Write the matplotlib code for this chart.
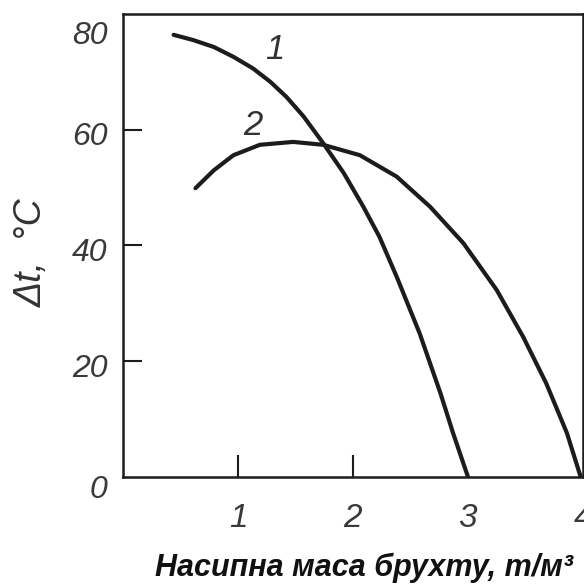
"""
Temperature difference vs bulk density of scrap, curves 1 and 2.
"""
import matplotlib
matplotlib.use("Agg")
import matplotlib.pyplot as plt
from matplotlib.transforms import ScaledTranslation

# curve 1
x_curve1 = [0.44, 0.61, 0.79, 0.96, 1.13, 1.28, 1.42, 1.57, 1.74, 1.92, 2.09, 2.23,
            2.38, 2.58, 2.76, 2.87, 3.00]
y_curve1 = [76.4, 75.5, 74.3, 72.6, 70.6, 68.3, 65.7, 62.3, 57.7, 52.5, 46.7, 41.5,
            34.6, 24.8, 14.5, 7.6, 0.0]

# curve 2
x_curve2 = [0.63, 0.79, 0.96, 1.19, 1.48, 1.74, 2.06, 2.38, 2.67, 2.96, 3.25, 3.48,
            3.68, 3.86, 3.98]
y_curve2 = [49.9, 53.0, 55.6, 57.4, 57.9, 57.4, 55.6, 51.9, 46.7, 40.4, 32.3, 24.2,
            16.2, 7.6, 0.0]

curve_names = ["1", "2"]
name_pos_x = [1.32, 1.13]
name_pos_y = [73.8, 60.8]

x_ticks = [1, 2, 3, 4]
y_ticks = [0, 20, 40, 60, 80]

x_title = "Насипна маса брухту, т/м³"
y_title = "Δt,  °C"

num_font = ["Liberation Sans Narrow", "Liberation Sans", "DejaVu Sans"]
ink = "#1c1c1c"

fig = plt.figure(figsize=(5.84, 5.87), dpi=100)
ax = fig.add_axes([123 / 584, 110 / 587, 460 / 584, 463 / 587])

ax.plot(x_curve1, y_curve1, color=ink, lw=3.0, solid_capstyle="round", solid_joinstyle="round")
ax.plot(x_curve2, y_curve2, color=ink, lw=3.0, solid_capstyle="round", solid_joinstyle="round")

for name, nx, ny in zip(curve_names, name_pos_x, name_pos_y):
    ax.text(nx, ny, name, fontsize=25, style="italic", family=num_font,
            color="#333333", ha="center", va="center")

ax.set_xlim(0, 4)
ax.set_ylim(0, 80)

for sp in ax.spines.values():
    sp.set_linewidth(1.8)
    sp.set_color(ink)

ax.set_xticks(x_ticks)
ax.set_xticklabels([str(v) for v in x_ticks])
ax.set_yticks(y_ticks)
ax.set_yticklabels([str(v) for v in y_ticks])
ax.tick_params(axis="x", direction="in", length=16, width=1.5, pad=19, colors=ink)
ax.tick_params(axis="y", direction="in", length=14, width=1.5, pad=11, colors=ink)

# only 1, 2 on x and 20..60 on y have tick marks
for t in ax.xaxis.get_major_ticks()[2:]:
    t.tick1line.set_visible(False)
yt = ax.yaxis.get_major_ticks()
yt[0].tick1line.set_visible(False)
yt[-1].tick1line.set_visible(False)

for lab in ax.get_xticklabels() + ax.get_yticklabels():
    lab.set_family(num_font)
    lab.set_style("italic")
    lab.set_color("#3a3a3a")
for lab in ax.get_xticklabels():
    lab.set_fontsize(24)
for lab in ax.get_yticklabels():
    lab.set_fontsize(23)

# scan places 0 and 80 a bit off their ticks
ylabs = ax.get_yticklabels()
ylabs[0].set_transform(ylabs[0].get_transform() + ScaledTranslation(0, -0.10, fig.dpi_scale_trans))
ylabs[-1].set_transform(ylabs[-1].get_transform() + ScaledTranslation(0, -0.19, fig.dpi_scale_trans))
for lab in ylabs[1:-1]:
    lab.set_transform(lab.get_transform() + ScaledTranslation(0, -0.04, fig.dpi_scale_trans))

ax.set_xlabel(x_title, fontsize=22, fontweight="bold", style="italic",
              family=["Liberation Sans", "DejaVu Sans"], color="#111111")
ax.xaxis.label.set_va("center")
ax.xaxis.set_label_coords(0.524, -0.197)

ax.set_ylabel(y_title, fontsize=27, style="italic", family=num_font, color="#333333")
ax.yaxis.label.set_va("center")
ax.yaxis.set_label_coords(-0.198, 0.484)

fig.savefig("out.png", dpi=100)
